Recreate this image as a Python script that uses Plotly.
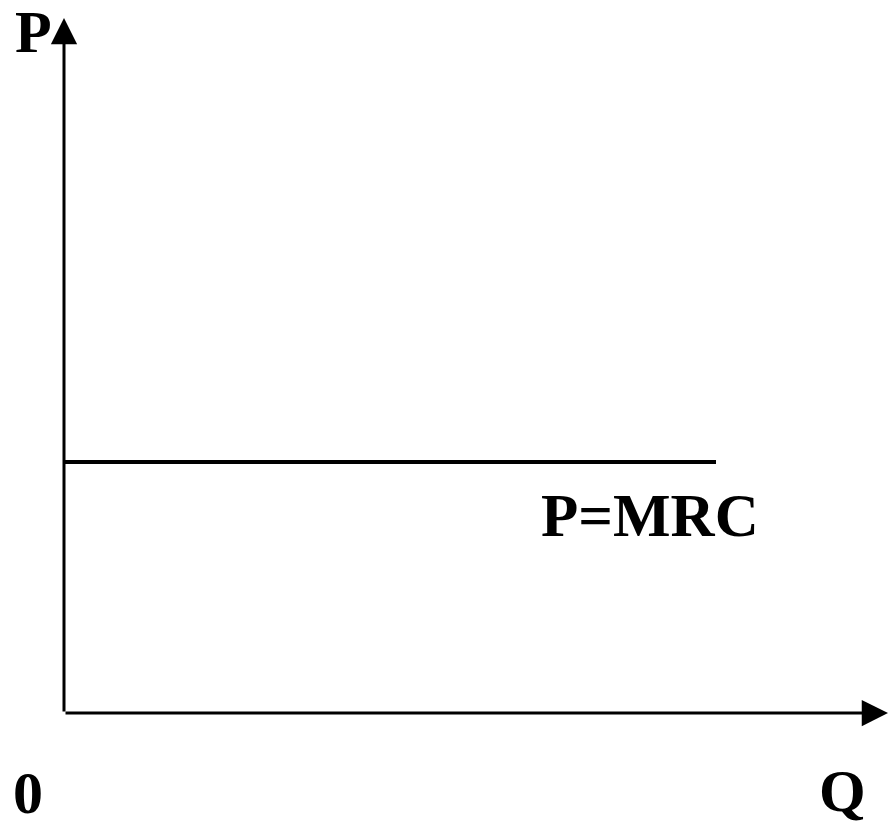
import plotly.graph_objects as go

# Data (axis units)
q_axis_end = 824      # Q axis arrow tip
p_axis_end = 695      # P axis arrow tip
mrc_q = [0, 652]      # horizontal P=MRC line extent
mrc_p = [251, 251]    # price level
label_text = ["P", "0", "Q", "P=MRC"]
label_x = [-31, -36, 778, 586]
label_y = [681, -80, -78, 198]
label_size = [60, 60, 60, 61]

FONT = "Liberation Serif"

fig = go.Figure()

fig.add_trace(go.Scatter(x=mrc_q, y=mrc_p, mode="lines",
                         line=dict(color="black", width=4), showlegend=False,
                         hoverinfo="skip"))

# axes with arrowheads
fig.add_annotation(x=0, y=p_axis_end, ax=0, ay=0, xref="x", yref="y", axref="x", ayref="y",
                   showarrow=True, arrowhead=2, arrowwidth=3, arrowsize=1.75,
                   arrowcolor="black", text="")
fig.add_annotation(x=q_axis_end, y=0, ax=0, ay=0, xref="x", yref="y", axref="x", ayref="y",
                   showarrow=True, arrowhead=2, arrowwidth=3, arrowsize=1.75,
                   arrowcolor="black", text="")

for txt, lx, ly, sz in zip(label_text, label_x, label_y, label_size):
    fig.add_annotation(x=lx, y=ly, xref="x", yref="y", text=f"<b>{txt}</b>",
                       showarrow=False, xanchor="center", yanchor="middle",
                       font=dict(family=FONT, size=sz, color="black"))

fig.update_xaxes(range=[-64, 825], visible=False, showgrid=False, zeroline=False)
fig.update_yaxes(range=[-112, 713], visible=False, showgrid=False, zeroline=False)
fig.update_layout(width=889, height=825, margin=dict(l=0, r=0, t=0, b=0),
                  plot_bgcolor="white", paper_bgcolor="white", showlegend=False)

fig.write_html("out.html", config={"displayModeBar": False},
               post_script="document.body.style.margin='0px';")
